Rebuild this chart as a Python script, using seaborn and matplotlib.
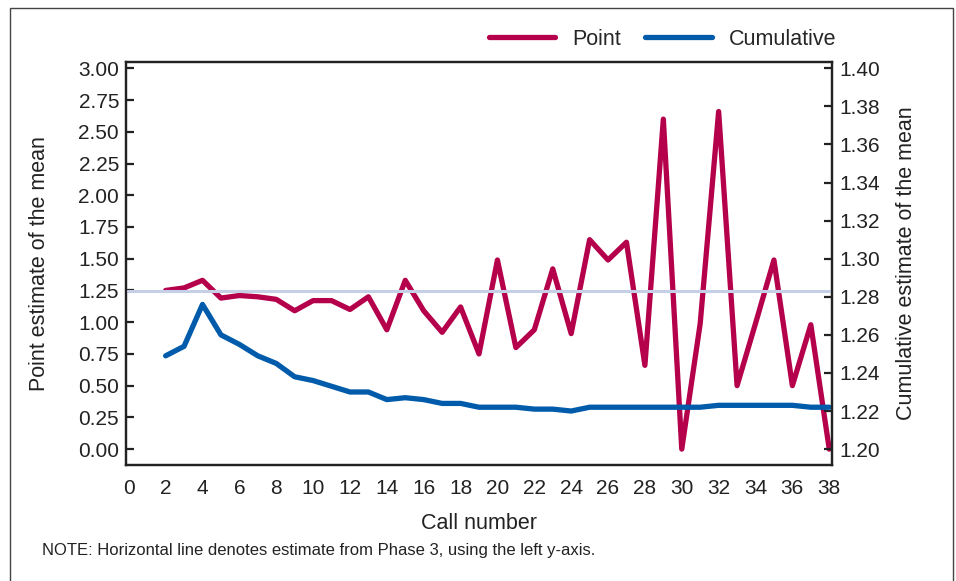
import pandas as pd
import seaborn as sns
import matplotlib.pyplot as plt
from matplotlib.patches import Rectangle

calls = list(range(2, 39))
point_est = [1.25, 1.27, 1.33, 1.19, 1.21, 1.20, 1.18, 1.09, 1.17, 1.17,
             1.10, 1.20, 0.94, 1.33, 1.09, 0.92, 1.12, 0.75, 1.49, 0.80,
             0.94, 1.42, 0.91, 1.65, 1.49, 1.63, 0.66, 2.60, 0.00, 0.99,
             2.66, 0.50, 0.99, 1.49, 0.50, 0.98, 0.00]
cumulative = [1.249, 1.254, 1.276, 1.260, 1.255, 1.249, 1.245, 1.238, 1.236, 1.233,
              1.230, 1.230, 1.226, 1.227, 1.226, 1.224, 1.224, 1.222, 1.222, 1.222,
              1.221, 1.221, 1.220, 1.222, 1.222, 1.222, 1.222, 1.222, 1.222, 1.222,
              1.223, 1.223, 1.223, 1.223, 1.223, 1.222, 1.222]
phase3_estimate = 1.245
xticks = list(range(0, 39, 2))
left_ticks = [0.0, 0.25, 0.5, 0.75, 1.0, 1.25, 1.5, 1.75, 2.0, 2.25, 2.5, 2.75, 3.0]
right_ticks = [1.20, 1.22, 1.24, 1.26, 1.28, 1.30, 1.32, 1.34, 1.36, 1.38, 1.40]

df = pd.DataFrame({'Call': calls, 'Point': point_est, 'Cumulative': cumulative})

sns.set_style('white')
plt.rcParams['font.family'] = ['Liberation Sans', 'DejaVu Sans']

red = '#b5004b'
blue = '#005bab'
ink = '#222222'

fig = plt.figure(figsize=(9.56, 5.81), dpi=100)
ax = fig.add_axes([0.1318, 0.1997, 0.7385, 0.6936])
ax2 = ax.twinx()

sns.lineplot(data=df, x='Call', y='Point', ax=ax, color=red, linewidth=3.8,
             label='Point', legend=False, zorder=2)
ax.axhline(phase3_estimate, color='#c5cfe6', linewidth=2.2, zorder=3)
sns.lineplot(data=df, x='Call', y='Cumulative', ax=ax2, color=blue, linewidth=3.8,
             label='Cumulative', legend=False)

ax.set_xlim(-0.15, 38.15)
ax.set_ylim(-0.125, 3.05)
ax2.set_ylim(1.2 - 0.125 / 15, 1.2 + 3.05 / 15)

ax.set_xticks(xticks)
ax.set_yticks(left_ticks)
ax.set_yticklabels([f'{v:.2f}' for v in left_ticks])
ax2.set_yticks(right_ticks)
ax2.set_yticklabels([f'{v:.2f}' for v in right_ticks])

for a in (ax, ax2):
    a.tick_params(direction='in', length=6, width=1.6, colors=ink,
                  labelsize=15, labelcolor=ink, pad=5)
    for s in a.spines.values():
        s.set_color(ink)
        s.set_linewidth(1.6)
ax.tick_params(axis='x', pad=10)

ax.set_xlabel('Call number', fontsize=15.5, color=ink, labelpad=11)
ax.set_ylabel('Point estimate of the mean', fontsize=15.5, color=ink, labelpad=20)
ax2.set_ylabel('Cumulative estimate of the mean', fontsize=15.5, color=ink, labelpad=12)

handles = ax.get_lines()[:1] + ax2.get_lines()[:1]
fig.legend(handles, ['Point', 'Cumulative'], loc='center right',
           bbox_to_anchor=(0.884, 0.932), borderaxespad=0, ncol=2, frameon=False,
           fontsize=15.5, handlelength=3.1, handletextpad=0.8, columnspacing=1.1)

fig.text(0.044, 0.052, 'NOTE: Horizontal line denotes estimate from Phase 3, using the left y-axis.',
         fontsize=12, color=ink, va='center')

fig.patches.append(Rectangle((10 / 956, -0.02), 943 / 956, 1 - 8 / 581 + 0.02,
                             transform=fig.transFigure, fill=False,
                             edgecolor='#444444', linewidth=1.0))

fig.savefig('out.png', dpi=100)
